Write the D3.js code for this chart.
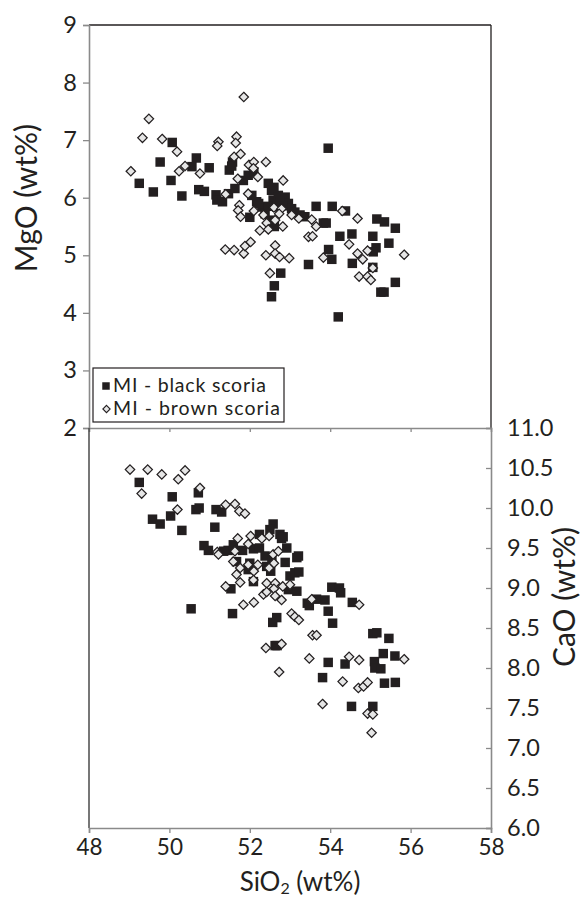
<!DOCTYPE html>
<html>
<head>
<meta charset="utf-8">
<script src="https://cdn.jsdelivr.net/npm/d3@7"></script>
<style>
  html, body { margin: 0; padding: 0; background: #fff; }
  svg { display: block; }
  text { font-family: Lato, "Open Sans", sans-serif; fill: #231f20; }
</style>
</head>
<body>
<svg id="chart" width="582" height="897"></svg>
<script>
// ---------- DATA ----------
const sio2Ticks = [48, 50, 52, 54, 56, 58];
const mgoTicks = [2, 3, 4, 5, 6, 7, 8, 9];
const caoTicks = [6.0, 6.5, 7.0, 7.5, 8.0, 8.5, 9.0, 9.5, 10.0, 10.5, 11.0];
const seriesNames = ["MI - black scoria", "MI - brown scoria"];

// [SiO2, MgO] - black scoria melt inclusions
const blackMgO = [
  [49.25,6.25],[49.60,6.10],[49.77,6.62],[50.04,6.30],[50.07,6.96],[50.31,6.03],
  [50.67,6.69],[50.56,6.54],[50.73,6.14],[50.87,6.11],[50.99,6.52],[51.16,6.05],
  [51.18,5.96],[51.32,5.93],[51.49,6.48],[51.57,6.62],[51.47,6.07],[51.63,6.16],
  [51.84,6.30],[51.96,6.39],[52.10,6.45],[52.00,5.66],[52.05,6.04],[52.17,5.93],
  [52.30,5.84],[52.38,5.72],[52.46,6.25],[52.54,6.13],[52.58,5.96],[52.67,5.84],
  [52.71,6.04],[52.88,6.01],[52.96,5.90],[53.04,5.81],[53.12,5.75],[53.25,5.70],
  [53.37,5.67],[52.50,5.61],[52.61,5.50],[52.54,4.28],[52.61,4.47],[52.77,4.69],
  [53.95,6.86],[53.65,5.85],[54.05,5.85],[54.38,5.77],[53.83,5.56],[53.90,5.56],
  [55.16,5.63],[55.35,5.58],[55.62,5.47],[54.24,5.33],[54.54,5.37],[55.06,5.33],
  [55.46,5.21],[53.96,5.10],[54.04,4.93],[55.14,5.13],[55.07,5.06],[53.46,4.84],
  [54.55,4.86],[55.06,4.79],[55.26,4.36],[55.34,4.36],[55.62,4.53],[54.20,3.93],
  [52.60,6.18],[52.75,5.93],[52.45,5.85],[52.22,5.90],[52.82,5.86],[51.55,6.55]
];
// [SiO2, MgO] - brown scoria melt inclusions
const brownMgO = [
  [49.04,6.46],[49.49,7.37],[49.33,7.04],[49.82,7.02],[50.19,6.80],[50.24,6.46],
  [50.39,6.55],[50.76,6.42],[51.22,6.97],[51.19,6.90],[51.40,6.06],[51.39,5.10],
  [51.61,5.09],[51.85,5.03],[51.88,5.16],[52.02,5.23],[51.85,7.75],[51.67,7.06],
  [51.65,6.95],[51.61,6.71],[51.77,6.76],[51.70,6.33],[51.74,5.87],[51.71,5.78],
  [51.77,5.67],[51.96,6.07],[51.98,6.57],[52.10,6.62],[52.09,6.51],[52.20,6.36],
  [52.10,5.77],[52.40,6.62],[52.34,5.70],[52.25,5.43],[52.42,5.56],[52.46,5.45],
  [52.40,5.00],[52.63,5.17],[52.63,5.03],[52.74,4.97],[52.98,4.95],[52.50,4.69],
  [52.83,6.30],[52.60,5.83],[52.79,5.81],[52.73,5.72],[52.82,5.50],[52.63,5.61],
  [53.04,5.70],[53.22,5.64],[53.54,5.62],[53.65,5.50],[53.46,5.32],[53.56,5.33],
  [54.30,5.77],[54.68,5.64],[53.83,4.96],[54.47,5.19],[54.68,5.03],[54.81,4.93],
  [54.93,5.08],[54.72,4.63],[54.93,4.63],[55.01,4.57],[55.06,4.78],[55.84,5.01]
];
// [SiO2, CaO] - black scoria melt inclusions
const blackCaO = [
  [49.25,10.32],[50.07,10.14],[50.72,10.19],[49.58,9.86],[49.77,9.80],[50.03,9.90],
  [50.31,9.72],[50.66,9.98],[50.74,10.00],[51.16,9.98],[51.30,9.95],[51.13,9.76],
  [50.86,9.53],[50.97,9.47],[51.46,9.47],[51.59,9.54],[51.82,9.47],[51.35,9.46],
  [51.53,8.99],[50.54,8.74],[51.57,8.68],[52.00,9.31],[51.96,9.23],[52.09,9.08],
  [52.09,9.49],[52.24,9.67],[52.24,9.50],[52.38,9.40],[52.42,9.27],[52.52,9.21],
  [52.58,9.80],[52.50,9.73],[52.75,9.67],[52.79,9.62],[52.92,9.50],[52.88,9.32],
  [53.17,9.38],[53.00,9.15],[53.12,9.19],[52.96,8.98],[53.17,8.96],[52.57,8.57],
  [52.67,8.63],[52.63,8.28],[52.68,8.28],[53.22,9.20],[53.21,9.40],[53.43,8.81],
  [53.48,8.78],[53.66,8.86],[53.87,8.85],[53.95,8.71],[54.06,8.56],[54.04,9.01],
  [54.23,9.00],[54.26,8.94],[54.55,8.82],[53.95,8.07],[53.81,7.88],[54.37,8.05],
  [54.53,7.52],[55.06,8.43],[55.16,8.44],[55.46,8.37],[55.32,8.18],[55.61,8.15],
  [55.10,8.08],[55.11,8.00],[55.26,7.99],[55.35,7.81],[55.62,7.82],[55.06,7.52],
  [52.83,9.64],[51.67,9.33],[52.55,9.35]
];
// [SiO2, CaO] - brown scoria melt inclusions
const brownCaO = [
  [49.02,10.48],[49.46,10.48],[49.81,10.42],[50.39,10.47],[50.22,10.36],[49.31,10.18],
  [50.20,9.98],[50.76,10.25],[51.40,10.04],[51.63,10.05],[51.74,9.96],[51.88,9.93],
  [51.19,9.45],[51.22,9.42],[51.70,9.62],[51.63,9.46],[51.59,9.33],[51.76,9.25],
  [51.67,9.17],[51.76,9.07],[51.40,9.02],[51.84,8.79],[52.10,8.82],[51.96,9.55],
  [52.02,9.65],[52.30,9.62],[52.48,9.65],[51.96,9.29],[52.10,9.21],[52.20,9.29],
  [52.09,9.10],[52.58,9.42],[52.71,9.46],[52.60,9.31],[52.48,9.25],[52.42,9.06],
  [52.63,9.06],[52.60,8.99],[52.82,9.02],[53.00,9.04],[52.34,8.92],[52.42,8.95],
  [52.63,8.90],[52.79,8.85],[53.04,8.68],[53.12,8.64],[53.22,8.60],[52.40,8.25],
  [52.79,8.30],[52.73,7.95],[53.54,8.86],[54.72,8.79],[53.56,8.41],[53.66,8.41],
  [53.48,8.12],[53.81,7.55],[54.31,7.83],[54.47,8.14],[54.72,8.10],[54.70,7.75],
  [54.83,7.77],[54.93,7.82],[54.93,7.43],[55.06,7.42],[55.03,7.19],[55.84,8.11]
];

// ---------- LAYOUT ----------
const L = 89, R = 491, T = 25, M = 428, B = 828;
const dark = "#231f20", gray = "#8a8a8a";
const squareColor = "#231f20", diamondFill = "#e6e6e6";
const FONT = "Lato, 'Open Sans', sans-serif";

const x = d3.scaleLinear().domain([48, 58]).range([L, R]);
const yMg = d3.scaleLinear().domain([2, 9]).range([M, T]);
const yCa = d3.scaleLinear().domain([6, 11]).range([B, M]);

const svg = d3.select("#chart");

const sqSym = d3.symbol().type(d3.symbolSquare).size(90);
const diSym = d3.symbol().type(d3.symbolDiamond2).size(56);

// ---------- TOP PANEL FRAME ----------
svg.append("line").attr("x1", L).attr("x2", R).attr("y1", T).attr("y2", T)
  .attr("stroke", dark).attr("stroke-width", 1.3);
svg.append("line").attr("x1", R).attr("x2", R).attr("y1", T).attr("y2", M)
  .attr("stroke", dark).attr("stroke-width", 1.3);

const axMg = svg.append("g").attr("transform", `translate(${L},0)`)
  .call(d3.axisLeft(yMg).tickValues(mgoTicks).tickSize(6).tickPadding(6).tickFormat(d3.format("d")));
const axTopX = svg.append("g").attr("transform", `translate(0,${M})`)
  .call(d3.axisBottom(x).tickValues(sio2Ticks.slice(1, -1)).tickSize(4).tickFormat(""));

// ---------- BOTTOM PANEL FRAME ----------
svg.append("line").attr("x1", L).attr("x2", L).attr("y1", M).attr("y2", B)
  .attr("stroke", "#4a4a4a").attr("stroke-width", 1.5);
const axX = svg.append("g").attr("transform", `translate(0,${B})`)
  .call(d3.axisBottom(x).tickValues(sio2Ticks).tickSize(5).tickPadding(4).tickFormat(d3.format("d")));
const axCa = svg.append("g").attr("transform", `translate(${R},0)`)
  .call(d3.axisRight(yCa).tickValues(caoTicks).tickSize(-5).tickPadding(17).tickFormat(d3.format(".1f")));

[axMg, axTopX, axX, axCa].forEach(g => {
  g.select(".domain").attr("stroke", gray).attr("stroke-width", 1.6);
  g.selectAll(".tick line").attr("stroke", gray).attr("stroke-width", 1.3);
  g.selectAll(".tick text").attr("fill", dark).style("font-size", "23.5px")
    .style("font-family", FONT);
});
axCa.selectAll(".tick text").attr("x", 16);
axX.selectAll(".tick text").style("font-size", "22.5px").attr("dy", "0.8em");

// ---------- POINTS ----------
const gTop = svg.append("g");
gTop.selectAll("path.sq").data(blackMgO).join("path").attr("class", "sq")
  .attr("d", sqSym).attr("transform", d => `translate(${x(d[0])},${yMg(d[1])})`)
  .attr("fill", squareColor);
gTop.selectAll("path.di").data(brownMgO).join("path").attr("class", "di")
  .attr("d", diSym).attr("transform", d => `translate(${x(d[0])},${yMg(d[1])})`)
  .attr("fill", diamondFill).attr("stroke", dark).attr("stroke-width", 1.25);

const gBot = svg.append("g");
gBot.selectAll("path.sq").data(blackCaO).join("path").attr("class", "sq")
  .attr("d", sqSym).attr("transform", d => `translate(${x(d[0])},${yCa(d[1])})`)
  .attr("fill", squareColor);
gBot.selectAll("path.di").data(brownCaO).join("path").attr("class", "di")
  .attr("d", diSym).attr("transform", d => `translate(${x(d[0])},${yCa(d[1])})`)
  .attr("fill", diamondFill).attr("stroke", dark).attr("stroke-width", 1.25);

// ---------- LEGEND ----------
const lg = svg.append("g");
lg.append("rect").attr("x", 93).attr("y", 368).attr("width", 191).attr("height", 54)
  .attr("fill", "#fff").attr("stroke", dark).attr("stroke-width", 1.2);
lg.append("path").attr("d", d3.symbol().type(d3.symbolSquare).size(56))
  .attr("transform", "translate(106,386)").attr("fill", squareColor);
lg.append("path").attr("d", d3.symbol().type(d3.symbolDiamond2).size(34))
  .attr("transform", "translate(106.5,409)").attr("fill", diamondFill)
  .attr("stroke", dark).attr("stroke-width", 1.1);
lg.append("text").attr("x", 113).attr("y", 391.5).style("font-size", "19.5px")
  .attr("textLength", 153).attr("lengthAdjust", "spacing").text(seriesNames[0]);
lg.append("text").attr("x", 113).attr("y", 415).style("font-size", "19.5px")
  .attr("textLength", 167).attr("lengthAdjust", "spacing").text(seriesNames[1]);

// ---------- AXIS TITLES ----------
svg.append("text").attr("transform", "translate(37,198) rotate(-90)")
  .attr("text-anchor", "middle").style("font-size", "30px").text("MgO (wt%)");
const xt = svg.append("text").attr("x", 300).attr("y", 890.5)
  .attr("text-anchor", "middle").style("font-size", "26px");
xt.append("tspan").text("SiO");
xt.append("tspan").attr("dy", 3).style("font-size", "16px").text("2");
xt.append("tspan").attr("dy", -3).text(" (wt%)");
svg.append("text").attr("transform", "translate(575,597) rotate(-90)")
  .attr("text-anchor", "middle").style("font-size", "30px").text("CaO (wt%)");
</script>
</body>
</html>
